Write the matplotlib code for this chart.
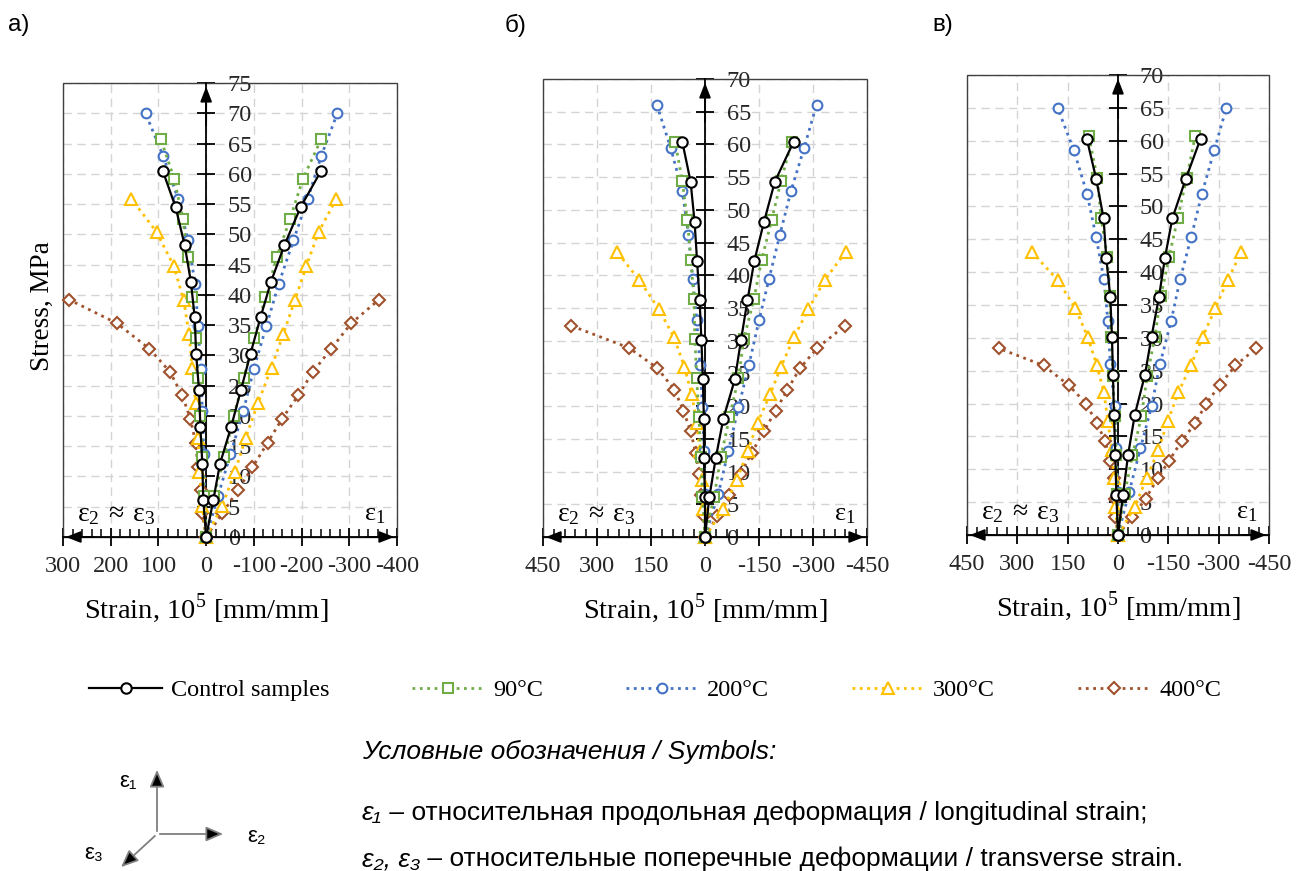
import matplotlib.pyplot as plt
from matplotlib.lines import Line2D
from matplotlib.patches import Rectangle, FancyArrowPatch
from matplotlib.ticker import MultipleLocator, FuncFormatter

plt.rcParams['mathtext.fontset'] = 'custom'
plt.rcParams['mathtext.rm'] = 'Liberation Serif'
plt.rcParams['axes.unicode_minus'] = False

SERIF = ['Liberation Serif', 'DejaVu Serif']
SANS = ['Liberation Sans', 'DejaVu Sans']

# series order: control, 90C, 200C, 300C, 400C
series_names = ['Control samples', '90°C', '200°C', '300°C', '400°C']

# panel а) stress [MPa], longitudinal strain e1 and transverse strain e2~e3 (x10^-5)
stress_a = [
    [0, 6.1, 12.1, 18.1, 24.3, 30.3, 36.3, 42.2, 48.2, 54.5, 60.5],
    [0, 6.7, 13.2, 20.0, 26.3, 32.8, 39.6, 46.2, 52.6, 59.2, 65.7],
    [0, 6.8, 13.7, 20.8, 27.8, 34.8, 41.8, 49.0, 55.9, 62.9, 70.0],
    [0, 5.2, 10.7, 16.4, 22.2, 28.0, 33.6, 39.1, 44.8, 50.4, 55.9],
    [0, 3.9, 7.7, 11.5, 15.6, 19.5, 23.4, 27.3, 31.1, 35.3, 39.2],
]
e1_a = [
    [0, -15, -29, -52, -73, -93, -114, -136, -164, -198, -241],
    [0, -16, -38, -58, -79, -101, -124, -148, -176, -203, -241],
    [0, -25, -51, -78, -100, -126, -152, -183, -213, -241, -275],
    [0, -34, -60, -83, -109, -137, -162, -186, -210, -236, -273],
    [0, -34, -66, -97, -129, -159, -193, -224, -262, -304, -362],
]
e23_a = [
    [0, 6, 8, 12, 15, 21, 24, 32, 45, 64, 91],
    [0, 4, 8, 12, 17, 22, 29, 38, 49, 67, 95],
    [0, 3, 5, 8, 11, 17, 23, 38, 59, 90, 127],
    [0, 8, 14, 17, 22, 29, 36, 47, 68, 104, 157],
    [0, 8, 10, 17, 22, 33, 50, 76, 119, 187, 287],
]

# panel б)
stress_b = [
    [0, 6.1, 12.1, 18.1, 24.1, 30.1, 36.2, 42.2, 48.2, 54.3, 60.4],
    [0, 6.1, 12.2, 18.3, 24.3, 30.3, 36.4, 42.3, 48.4, 54.4, 60.4],
    [0, 6.6, 13.2, 19.8, 26.3, 33.1, 39.5, 46.2, 52.9, 59.4, 66.1],
    [0, 4.3, 8.7, 13.1, 17.5, 21.8, 26.0, 30.5, 34.8, 39.3, 43.6],
    [0, 3.2, 6.4, 9.7, 12.9, 16.2, 19.3, 22.5, 25.8, 28.9, 32.3],
]
e1_b = [
    [0, -12, -30, -51, -83, -100, -118, -137, -164, -194, -246],
    [0, -25, -44, -68, -93, -108, -136, -157, -185, -211, -241],
    [0, -37, -65, -93, -122, -150, -178, -208, -239, -275, -310],
    [0, -51, -88, -119, -146, -181, -211, -247, -287, -333, -391],
    [0, -34, -68, -99, -130, -164, -196, -229, -264, -312, -389],
]
e23_b = [
    [0, 0, 3, 3, 6, 10, 15, 22, 29, 40, 63],
    [0, 7, 11, 17, 23, 28, 31, 39, 49, 63, 83],
    [0, 1, 2, 7, 14, 23, 34, 46, 63, 95, 134],
    [0, 5, 9, 14, 23, 37, 57, 86, 128, 183, 245],
    [0, 4, 11, 17, 26, 40, 60, 85, 132, 211, 372],
]

# panel в)
stress_c = [
    [0, 6.1, 12.2, 18.3, 24.3, 30.2, 36.2, 42.2, 48.2, 54.2, 60.3],
    [0, 6.3, 12.1, 18.1, 24.2, 30.2, 36.4, 42.3, 48.2, 54.4, 60.7],
    [0, 6.5, 13.2, 19.6, 26.0, 32.5, 38.9, 45.3, 51.9, 58.6, 65.0],
    [0, 4.3, 8.6, 12.9, 17.3, 21.7, 25.8, 30.1, 34.5, 38.8, 43.1],
    [0, 2.8, 5.5, 8.6, 11.3, 14.3, 17.0, 20.0, 22.8, 25.8, 28.4],
]
e1_c = [
    [0, -15, -30, -50, -80, -100, -122, -140, -162, -202, -246],
    [0, -20, -43, -70, -87, -110, -128, -152, -178, -205, -230],
    [0, -33, -67, -100, -125, -158, -185, -218, -250, -287, -323],
    [0, -50, -85, -120, -148, -180, -217, -252, -290, -327, -368],
    [0, -43, -82, -118, -152, -190, -230, -263, -303, -350, -412],
]
e23_c = [
    [0, 5, 8, 12, 15, 18, 23, 35, 43, 65, 93],
    [0, 3, 5, 10, 15, 20, 25, 32, 50, 62, 87],
    [0, 0, 5, 10, 23, 30, 42, 65, 92, 132, 180],
    [0, 8, 12, 18, 30, 42, 63, 90, 127, 180, 257],
    [0, 8, 8, 12, 25, 38, 63, 95, 147, 222, 355],
]

panel_letters = ['а)', 'б)', 'в)']
x_limits = [(300, -400), (450, -450), (450, -450)]
y_tops = [75, 70, 70]
x_steps = [100, 150, 150]

colors = ['black', '#70AD47', '#4472C4', '#FFC000', '#A0522D']
markers = ['o', 's', 'o', '^', 'D']
msizes = [7.5, 7.5, 7, 8.5, 6]
styles = ['-', ':', ':', ':', ':']
widths = [1.6, 2.0, 2.0, 2.0, 2.0]

W, H = 1303, 871
fig = plt.figure(figsize=(W / 100, H / 100), dpi=100)


def px_rect(left, top, right, bottom):
    return [left / W, 1 - bottom / H, (right - left) / W, (bottom - top) / H]


def fx(px):
    return px / W


def fy(py):
    return 1 - py / H


# axes boxes in pixels (left, top, right, bottom)
boxes = [(63, 83, 397, 537), (543, 79, 867, 537), (967, 75, 1269, 535)]
letter_x = [8, 505, 932]


def draw_panel(ax, stress, e1, e23, xlim, ytop, xstep):
    for k in range(len(series_names)):
        for strain in (e23[k], e1[k]):
            ax.plot(strain, stress[k], color=colors[k], ls=styles[k], lw=widths[k],
                    marker=markers[k], ms=msizes[k], mfc='white', mec=colors[k],
                    mew=1.5, zorder=10 - k, clip_on=False)
    ax.set_xlim(*xlim)
    ax.set_ylim(0, ytop)

    # frame
    ax.add_patch(Rectangle((0, 0), 1, 1, transform=ax.transAxes, fill=False,
                           ec='#404040', lw=1.0, zorder=1, clip_on=False))
    ax.spines['left'].set_visible(False)
    ax.spines['top'].set_visible(False)
    ax.spines['right'].set_position(('data', 0))
    ax.spines['right'].set_color('black')
    ax.spines['right'].set_linewidth(1.3)
    ax.spines['bottom'].set_color('black')
    ax.spines['bottom'].set_linewidth(1.3)

    ax.xaxis.set_major_locator(MultipleLocator(xstep))
    ax.xaxis.set_minor_locator(MultipleLocator(xstep / 5))
    ax.yaxis.set_major_locator(MultipleLocator(5))
    ax.xaxis.set_major_formatter(FuncFormatter(lambda v, p: f'{v:.0f}'))
    ax.yaxis.tick_right()
    ax.tick_params(axis='y', which='major', direction='inout', length=13, width=1.3,
                   right=True, left=False, labelright=True, labelleft=False,
                   pad=9, labelsize=17.5, labelcolor='#262626')
    ax.tick_params(axis='x', which='major', direction='inout', length=13, width=1.3,
                   pad=7, labelsize=17.5, labelcolor='#262626')
    ax.tick_params(axis='x', which='minor', direction='in', length=6, width=1.1)
    for lab in ax.get_xticklabels() + ax.get_yticklabels():
        lab.set_fontfamily(SERIF)

    ax.grid(True, which='major', ls=(0, (6, 4)), color='#d4d4d4', lw=1.0)
    ax.set_axisbelow(True)

    # axis arrows
    head = dict(arrowstyle='-|>,head_length=0.9,head_width=0.35', color='black', lw=1.3)
    ax.annotate('', xy=(0, 0.998), xycoords=ax.get_xaxis_transform(),
                xytext=(0, 0.9), textcoords=ax.get_xaxis_transform(), arrowprops=head)
    ax.annotate('', xy=(0, 0), xycoords='axes fraction',
                xytext=(0.1, 0), textcoords='axes fraction', arrowprops=head)
    ax.annotate('', xy=(1, 0), xycoords='axes fraction',
                xytext=(0.9, 0), textcoords='axes fraction', arrowprops=head)

    ax.annotate(r'$\mathrm{ε_2\ ≈\ ε_3}$', xy=(0, 0), xycoords='axes fraction',
                xytext=(14, 24), textcoords='offset pixels', ha='left', va='center',
                fontsize=20)
    ax.annotate(r'$\mathrm{ε_1}$', xy=(1, 0), xycoords='axes fraction',
                xytext=(-11, 24), textcoords='offset pixels', ha='right', va='center',
                fontsize=19)
    ax.annotate('Strain, 10$^5$ [mm/mm]', xy=(0, 0), xycoords=ax.get_xaxis_transform(),
                xytext=(0, -71), textcoords='offset pixels', ha='center', va='center',
                fontsize=20.5, family=SERIF)


panels = [(stress_a, e1_a, e23_a), (stress_b, e1_b, e23_b), (stress_c, e1_c, e23_c)]
axes = []
for i, (st, e1, e23) in enumerate(panels):
    ax = fig.add_axes(px_rect(*boxes[i]))
    draw_panel(ax, st, e1, e23, x_limits[i], y_tops[i], x_steps[i])
    fig.text(fx(letter_x[i]), fy(25), panel_letters[i], fontsize=17.5, family=SANS,
             ha='left', va='center')
    axes.append(ax)

fig.text(fx(42), fy(306), 'Stress, MPa', rotation=90, fontsize=19.5, family=SERIF,
         ha='center', va='center')

# legend
handles = [Line2D([], [], color=colors[k], ls=styles[k], lw=widths[k], marker=markers[k],
                  ms=msizes[k], mfc='white', mec=colors[k], mew=1.5)
           for k in range(len(series_names))]
fig.legend(handles, series_names, loc='center', bbox_to_anchor=(fx(655), fy(690)),
           ncol=5, frameon=False, prop=dict(family=SERIF, size=17.5),
           handlelength=3.0, columnspacing=3.4, handletextpad=0.35)

# symbols note
renderer = fig.canvas.get_renderer()
fig.text(fx(362), fy(759), 'Условные обозначения / Symbols:', fontsize=19,
         family=SANS, style='italic', ha='left', va='baseline')
note_lines = [(820, 'ε₁', ' – относительная продольная деформация / longitudinal strain;'),
              (866, 'ε₂, ε₃', ' – относительные поперечные деформации / transverse strain.')]
for y, sym, rest in note_lines:
    t = fig.text(fx(362), fy(y), sym, fontsize=19, family=SANS, style='italic',
                 ha='left', va='baseline')
    bb = t.get_window_extent(renderer=renderer)
    fig.text(bb.x1 / W, fy(y), rest, fontsize=19, family=SANS, ha='left', va='baseline')

# orientation sketch
origin = (fx(157), fy(834))
for tip in [(fx(157), fy(767)), (fx(226), fy(834)), (fx(119), fy(869))]:
    fig.add_artist(FancyArrowPatch(origin, tip, transform=fig.transFigure,
                                   arrowstyle='-|>,head_length=0.7,head_width=0.3',
                                   mutation_scale=15, edgecolor='#7f7f7f',
                                   facecolor='black', lw=1.3))
for px, py, lab in [(128, 781, 'ε₁'), (256, 836, 'ε₂'), (94, 853, 'ε₃')]:
    fig.text(fx(px), fy(py), lab, fontsize=16, family=SANS, ha='center', va='center')

fig.savefig('out.png', dpi=100)
